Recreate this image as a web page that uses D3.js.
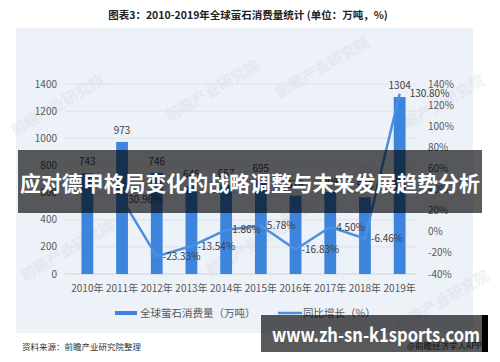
<!DOCTYPE html>
<html>
<head>
<meta charset="utf-8">
<script src="https://cdn.jsdelivr.net/npm/d3@7"></script>
<style>
  body { margin: 0; background: #fff; }
  svg { display: block; font-family: "Noto Sans CJK SC", "Noto Sans", sans-serif; }
</style>
</head>
<body>
<div id="chart"></div>
<script>
// data
var years = ['2010年', '2011年', '2012年', '2013年', '2014年', '2015年', '2016年', '2017年', '2018年', '2019年'];
var consumption = [743, 973, 746, 645, 657, 695, 578, 604, 565, 1304];
var growth = [null, 30.96, -23.33, -13.54, 1.86, 5.78, -16.83, 4.50, -6.46, 130.80];
var leftTicks = [0, 200, 400, 600, 800, 1000, 1200, 1400];
var rightTicks = [-40, -20, 0, 20, 40, 60, 80, 100, 120, 140];

var width = 500, height = 362;
var blue = '#3d85dc';

var svg = d3.select('#chart')
    .append('svg')
    .attr('width', width)
    .attr('height', height);

// title
svg.append('text')
    .attr('x', 248)
    .attr('y', 19)
    .attr('text-anchor', 'middle')
    .attr('font-size', 10.5)
    .attr('font-weight', 'bold')
    .attr('fill', '#222')
    .text('图表3：2010-2019年全球萤石消费量统计 (单位：万吨，%)');

// panel
svg.append('rect')
    .attr('x', 16).attr('y', 28)
    .attr('width', 457).attr('height', 305)
    .attr('fill', '#edf1f8');

// faint watermarks
var marks = [[60, 110], [215, 95], [325, 72], [440, 110], [70, 255], [255, 250], [330, 200], [445, 305]];
svg.append('g')
    .selectAll('text')
    .data(marks)
    .enter()
    .append('text')
    .attr('transform', (d) => 'translate(' + d[0] + ',' + d[1] + ') rotate(-30)')
    .attr('text-anchor', 'middle')
    .attr('font-size', 15)
    .attr('font-weight', 'bold')
    .attr('fill', '#cdd2dc')
    .attr('opacity', 0.3)
    .text('前瞻产业研究院');

var x = d3.scaleBand()
    .domain(years)
    .range([70, 417])
    .paddingInner(0.66)
    .paddingOuter(0.33);

var yL = d3.scaleLinear().domain([0, 1400]).range([274, 84]);
var yR = d3.scaleLinear().domain([-40, 140]).range([274, 84]);

// gridlines
svg.append('g')
    .selectAll('line')
    .data(leftTicks)
    .enter()
    .append('line')
    .attr('x1', 65).attr('x2', 417)
    .attr('y1', (d) => yL(d)).attr('y2', (d) => yL(d))
    .attr('stroke', (d) => d === 0 ? '#cfd3da' : '#dde1e8')
    .attr('stroke-width', 1);

// left axis labels
svg.append('g')
    .selectAll('text')
    .data(leftTicks)
    .enter()
    .append('text')
    .attr('x', 57)
    .attr('y', (d) => yL(d))
    .attr('dy', '0.35em')
    .attr('text-anchor', 'end')
    .attr('font-size', 10)
    .attr('fill', '#595959')
    .text((d) => d);

// right axis labels
svg.append('g')
    .selectAll('text')
    .data(rightTicks)
    .enter()
    .append('text')
    .attr('x', 428)
    .attr('y', (d) => yR(d))
    .attr('dy', '0.35em')
    .attr('font-size', 10)
    .attr('fill', '#595959')
    .text((d) => d + '%');

// x labels
svg.append('g')
    .selectAll('text')
    .data(years)
    .enter()
    .append('text')
    .attr('x', (d) => x(d) + x.bandwidth() / 2)
    .attr('y', 292)
    .attr('text-anchor', 'middle')
    .attr('font-size', 10)
    .attr('fill', '#595959')
    .text((d) => d);

// bars
svg.append('g')
    .selectAll('rect')
    .data(consumption)
    .enter()
    .append('rect')
    .attr('x', (d, i) => x(years[i]))
    .attr('y', (d) => yL(d))
    .attr('width', x.bandwidth())
    .attr('height', (d) => yL(0) - yL(d))
    .attr('fill', blue);

// bar value labels
svg.append('g')
    .selectAll('text')
    .data(consumption)
    .enter()
    .append('text')
    .attr('x', (d, i) => x(years[i]) + x.bandwidth() / 2)
    .attr('y', (d) => yL(d) - 8)
    .attr('text-anchor', 'middle')
    .attr('font-size', 10)
    .attr('fill', '#404040')
    .text((d) => d);

// growth line
var pts = growth.map((g, i) => ({ year: years[i], g: g })).filter((d) => d.g !== null);
var line = d3.line()
    .x((d) => x(d.year) + x.bandwidth() / 2)
    .y((d) => yR(d.g));

svg.append('path')
    .datum(pts)
    .attr('d', line)
    .attr('fill', 'none')
    .attr('stroke', '#4a8fe3')
    .attr('stroke-width', 2.5)
    .attr('stroke-linejoin', 'round');

svg.append('g')
    .selectAll('text')
    .data(pts)
    .enter()
    .append('text')
    .attr('x', (d) => x(d.year) + x.bandwidth() / 2 + (d.g > 100 ? 10 : 6))
    .attr('y', (d) => yR(d.g))
    .attr('dy', '0.35em')
    .attr('font-size', 10)
    .attr('fill', '#404040')
    .text((d) => d.g.toFixed(2) + '%');

// legend
svg.append('rect')
    .attr('x', 115).attr('y', 311)
    .attr('width', 22).attr('height', 4)
    .attr('fill', blue);
svg.append('text')
    .attr('x', 140).attr('y', 313)
    .attr('dy', '0.35em')
    .attr('font-size', 10.5)
    .attr('fill', '#595959')
    .text('全球萤石消费量（万吨）');
svg.append('line')
    .attr('x1', 278).attr('x2', 302)
    .attr('y1', 313).attr('y2', 313)
    .attr('stroke', '#4a8fe3')
    .attr('stroke-width', 2.5);
svg.append('text')
    .attr('x', 303).attr('y', 313)
    .attr('dy', '0.35em')
    .attr('font-size', 10.5)
    .attr('fill', '#595959')
    .text('同比增长（%）');

// source
svg.append('text')
    .attr('x', 22).attr('y', 347)
    .attr('dy', '0.35em')
    .attr('font-size', 8.5)
    .attr('fill', '#333')
    .text('资料来源：前瞻产业研究院整理');

svg.append('text')
    .attr('x', 482).attr('y', 349)
    .attr('text-anchor', 'end')
    .attr('font-size', 8.5)
    .attr('fill', '#333')
    .text('@前瞻经济学人APP');

// overlay banner
svg.append('rect')
    .attr('x', 18).attr('y', 150)
    .attr('width', 464).attr('height', 63)
    .attr('fill', 'rgba(0,0,0,0.64)');
svg.append('text')
    .attr('x', 20).attr('y', 184)
    .attr('dy', '0.35em')
    .attr('font-size', 21)
    .attr('font-weight', 'bold')
    .attr('fill', '#fff')
    .attr('textLength', 460)
    .attr('lengthAdjust', 'spacingAndGlyphs')
    .text('应对德甲格局变化的战略调整与未来发展趋势分析');

// bottom url box
svg.append('rect')
    .attr('x', 261).attr('y', 315)
    .attr('width', 221).attr('height', 37)
    .attr('fill', 'rgba(0,0,0,0.65)');
svg.append('rect')
    .attr('x', 482).attr('y', 315)
    .attr('width', 6).attr('height', 37)
    .attr('fill', '#000');
svg.append('text')
    .attr('x', 272).attr('y', 342)
    .attr('font-size', 19)
    .attr('font-weight', 'bold')
    .attr('fill', '#fff')
    .attr('textLength', 208)
    .attr('lengthAdjust', 'spacingAndGlyphs')
    .text('www.zh-sn-k1sports.com');
</script>
</body>
</html>
